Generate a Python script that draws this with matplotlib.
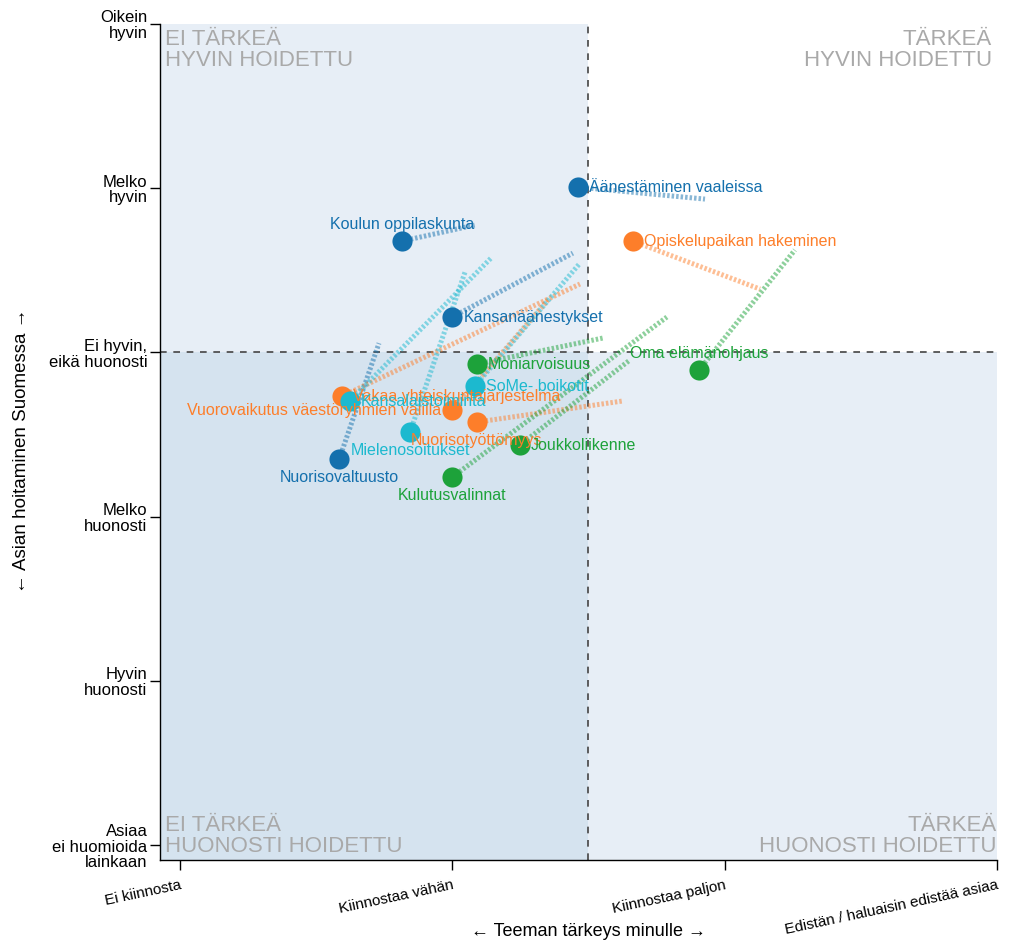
import matplotlib
matplotlib.use('Agg')
import matplotlib.pyplot as plt
from matplotlib.patches import Rectangle

plt.rcParams['font.family'] = ['Liberation Sans', 'DejaVu Sans']

# teemat: nimi, tärkeys (x), hoitaminen (y), viivan toinen pää, väri, nimen paikka
names = ['Äänestäminen vaaleissa', 'Koulun oppilaskunta', 'Kansanäänestykset', 'Nuorisovaltuusto',
         'Opiskelupaikan hakeminen', 'Vakaa yhteiskuntajärjestelmä', 'Vuorovaikutus väestöryhmien välillä',
         'Nuorisotyöttömyys', 'SoMe- boikotit', 'Kansalaistoiminta', 'Mielenosoitukset',
         'Moniarvoisuus', 'Oma elämänohjaus', 'Joukkoliikenne', 'Kulutusvalinnat']
x_val = [1.46, 0.815, 1.00, 0.585, 1.663, 0.595, 1.00, 1.09, 1.083, 0.624, 0.845, 1.09, 1.906, 1.248, 1.00]
y_val = [4.007, 3.678, 3.216, 2.351, 3.678, 2.734, 2.649, 2.576, 2.795, 2.704, 2.515, 2.929, 2.893, 2.436, 2.241]
x_end = [1.928, 1.083, 1.443, 0.731, 2.130, 1.469, 1.351, 1.623, 1.469, 1.146, 1.047, 1.553, 2.258, 1.652, 1.788]
y_end = [3.934, 3.776, 3.605, 3.057, 3.386, 3.417, 3.319, 2.704, 3.544, 3.581, 3.490, 3.088, 3.624, 2.954, 3.216]
groups = ['b', 'b', 'b', 'b', 'o', 'o', 'o', 'o', 'c', 'c', 'c', 'g', 'g', 'g', 'g']
label_pos = ['right', 'above', 'right', 'below', 'right', 'right', 'left', 'below',
             'right', 'right', 'below', 'right', 'above', 'right', 'below']

colors = {'b': '#1470ad', 'o': '#fd7e2a', 'g': '#1da23a', 'c': '#1cb9cf'}

x_ticks = ['Ei kiinnosta', 'Kiinnostaa vähän', 'Kiinnostaa paljon', 'Edistän / haluaisin edistää asiaa']
y_ticks = ['Asiaa\nei huomioida\nlainkaan', 'Hyvin\nhuonosti', 'Melko\nhuonosti',
           'Ei hyvin,\neikä huonosti', 'Melko\nhyvin', 'Oikein\nhyvin']

xmin, xmax = -0.073, 3.0
ymin, ymax = -0.09, 5.0

fig = plt.figure(figsize=(10.24, 9.47), dpi=100)
ax = fig.add_axes([160/1024, 1-860/947, (997-160)/1024, (860-24)/947])
ax.set_xlim(xmin, xmax)
ax.set_ylim(ymin, ymax)

# nelikentän taustat
light = '#e7eef6'
dark = '#d5e3ef'
ax.add_patch(Rectangle((xmin, 3), 1.5-xmin, ymax-3, color=light, lw=0, zorder=0))
ax.add_patch(Rectangle((xmin, ymin), 1.5-xmin, 3-ymin, color=dark, lw=0, zorder=0))
ax.add_patch(Rectangle((1.5, ymin), xmax-1.5, 3-ymin, color=light, lw=0, zorder=0))
ax.plot([xmin, xmax], [3, 3], color='#444444', lw=1.2, ls=(0, (4, 4)), zorder=1)
ax.plot([1.5, 1.5], [ymin, ymax], color='#444444', lw=1.2, ls=(0, (4, 4)), zorder=1)

qc = '#a9a9a9'
qfs = 16
ax.text(xmin+0.018, ymax-0.03, 'EI TÄRKEÄ\nHYVIN HOIDETTU', color=qc, fontsize=qfs,
        ha='left', va='top', linespacing=1.0, zorder=1)
ax.text(xmax-0.018, ymax-0.03, 'TÄRKEÄ\nHYVIN HOIDETTU', color=qc, fontsize=qfs,
        ha='right', va='top', linespacing=1.0, multialignment='right', zorder=1)
ax.text(xmin+0.018, ymin+0.02, 'EI TÄRKEÄ\nHUONOSTI HOIDETTU', color=qc, fontsize=qfs,
        ha='left', va='bottom', linespacing=1.0, zorder=1)
ax.text(xmax, ymin+0.02, 'TÄRKEÄ\nHUONOSTI HOIDETTU', color=qc, fontsize=qfs,
        ha='right', va='bottom', linespacing=1.0, multialignment='right', zorder=1)

# viivat pisteistä
for i in range(len(names)):
    ax.plot([x_val[i], x_end[i]], [y_val[i], y_end[i]], color=colors[groups[i]], lw=3.6,
            alpha=0.5, ls=(0, (0.5, 0.4)), solid_capstyle='butt', dash_capstyle='butt', zorder=2)

for i in range(len(names)):
    ax.plot(x_val[i], y_val[i], 'o', ms=14.5, color=colors[groups[i]], mec='none', zorder=3)

offs = {'right': ((8, 0), 'left', 'center'), 'left': ((-8, 0), 'right', 'center'),
        'above': ((0, 12), 'center', 'center'), 'below': ((0, -13), 'center', 'center')}
for i in range(len(names)):
    o, ha, va = offs[label_pos[i]]
    ax.annotate(names[i], (x_val[i], y_val[i]), xytext=o, textcoords='offset points',
                ha=ha, va=va, fontsize=11.5, color=colors[groups[i]], zorder=4)

for s in ['top', 'right']:
    ax.spines[s].set_visible(False)
ax.spines['left'].set_linewidth(1.0)
ax.spines['bottom'].set_linewidth(1.0)

ax.set_xticks([0, 1, 2, 3])
ax.set_xticklabels(x_ticks, rotation=12, ha='right', rotation_mode='anchor', fontsize=11)
ax.set_yticks([0, 1, 2, 3, 4, 5])
ax.set_yticklabels(y_ticks, fontsize=12, linespacing=1.05)
ax.tick_params(axis='both', length=7, width=1.0, color='black')
ax.tick_params(axis='x', pad=6)
ax.tick_params(axis='y', pad=2)

ax.set_xlabel('← Teeman tärkeys minulle →', fontsize=13)
ax.xaxis.set_label_coords((1.5-xmin)/(xmax-xmin), -0.075)
ax.set_ylabel('← Asian hoitaminen Suomessa →', fontsize=13.5)
ax.yaxis.set_label_coords(-0.155, 0.49)

fig.savefig('out.png', dpi=100)
